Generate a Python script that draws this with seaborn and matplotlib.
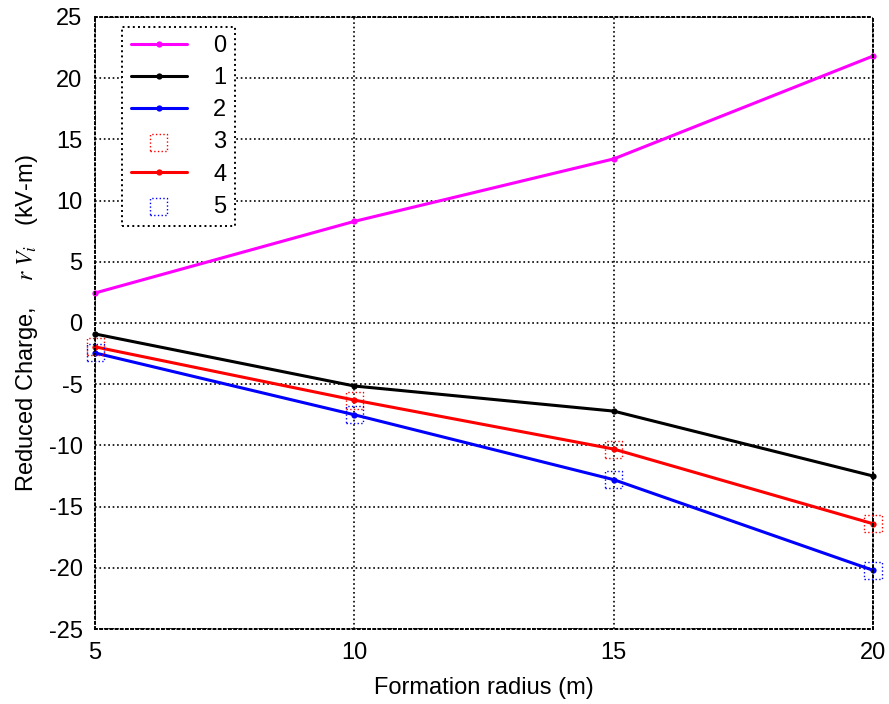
import seaborn as sns
import numpy as np
import pandas as pd
import matplotlib.pyplot as plt

radius = [5, 10, 15, 20]
s0 = [2.45, 8.3, 13.4, 21.8]
s1 = [-0.9, -5.15, -7.2, -12.5]
s2 = [-2.45, -7.5, -12.8, -20.2]
s3 = [-1.95, -6.3, -10.3, -16.4]
s4 = [-1.95, -6.3, -10.3, -16.4]
s5 = [-2.45, -7.5, -12.8, -20.2]

sns.set_style('white')
plt.rcParams['font.family'] = ['Liberation Sans', 'DejaVu Sans']
plt.rcParams['mathtext.fontset'] = 'stix'
plt.rcParams['axes.unicode_minus'] = False
plt.rcParams['text.color'] = 'black'
plt.rcParams['axes.labelcolor'] = 'black'

fig = plt.figure(figsize=(8.89, 7.04), dpi=100)
ax = fig.add_axes([0.107, 0.1065, 0.875, 0.8695])

series = [('0', s0, '#ff00ff', 'line'), ('1', s1, 'black', 'line'),
          ('2', s2, 'blue', 'line'), ('3', s3, 'red', 'square'),
          ('4', s4, 'red', 'line'), ('5', s5, 'blue', 'square')]

for name, vals, col, kind in series:
    df = pd.DataFrame({'radius': radius, 'val': vals})
    if kind == 'line':
        sns.lineplot(ax=ax, data=df, x='radius', y='val', color=col, lw=2.2,
                     marker='o', markersize=4.5, markeredgewidth=0, label=name,
                     clip_on=False)
    else:
        sns.scatterplot(ax=ax, data=df, x='radius', y='val', marker='s', s=150,
                        facecolor='none', edgecolor=col, linewidth=1,
                        linestyle=':', label=name, clip_on=False, zorder=3)

ax.set_xlim(5, 20)
ax.set_ylim(-25, 25)
ax.set_xticks([5, 10, 15, 20])
ax.set_yticks(np.arange(-25, 26, 5))
ax.grid(True, color='black', linestyle=':', linewidth=1.2)
for sp in ax.spines.values():
    sp.set_color('black')
    sp.set_linewidth(1.4)
    sp.set_linestyle(':')
ax.tick_params(direction='in', length=4, labelsize=17, colors='black')
ax.tick_params(axis='y', pad=9)
ax.tick_params(axis='x', pad=9)
ax.set_xlabel('Formation radius (m)', fontsize=17, labelpad=10)
ax.set_ylabel(r'Reduced Charge,    $r\ V_i$   (kV-m)', fontsize=17, labelpad=6)

leg = ax.legend(loc='upper left', bbox_to_anchor=(0.035, 0.984), fontsize=17,
                frameon=True, fancybox=False, edgecolor='black',
                handlelength=2.4, borderpad=0.35, labelspacing=0.43,
                handletextpad=1.1, borderaxespad=0, framealpha=1)
leg.get_frame().set_linewidth(1.4)
leg.get_frame().set_linestyle(':')

plt.savefig('out.png', dpi=100)
